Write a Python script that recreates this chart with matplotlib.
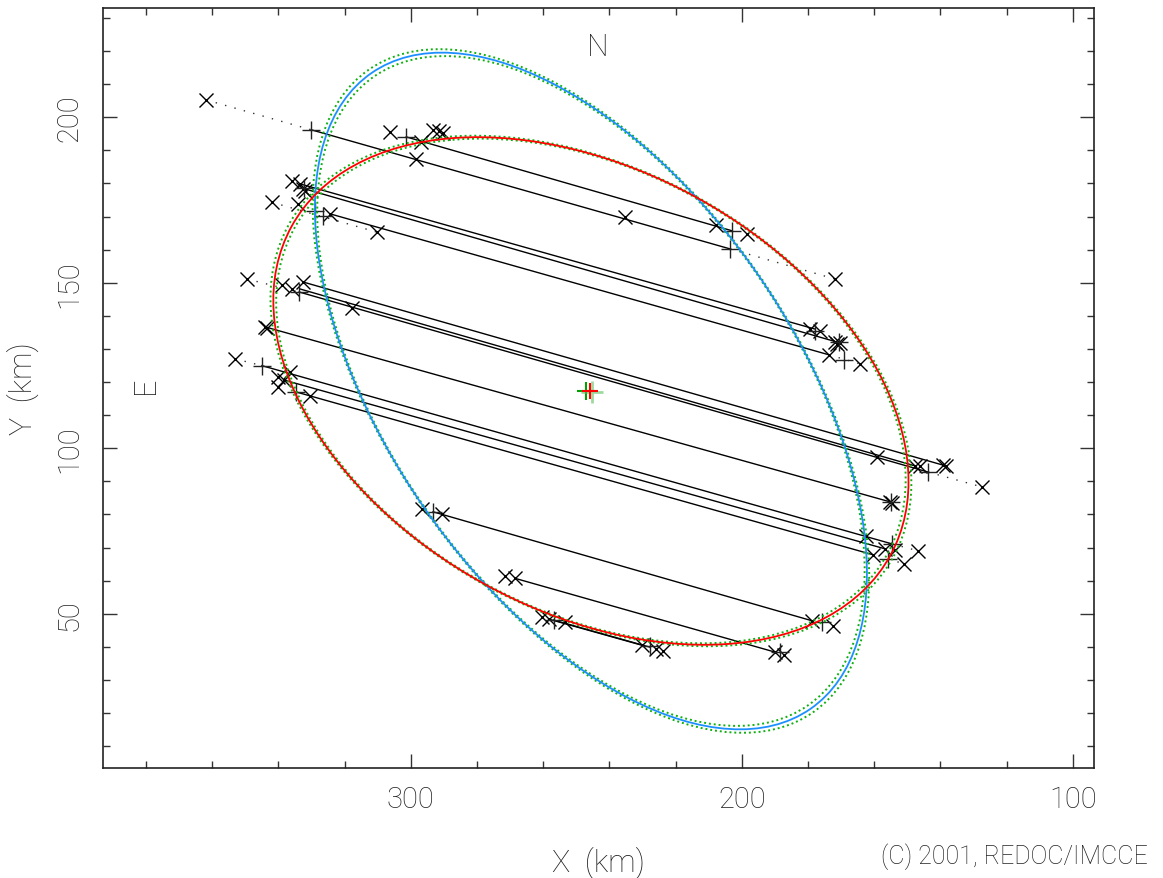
import matplotlib
matplotlib.use("Agg")
import matplotlib.pyplot as plt
from matplotlib.patches import Ellipse
from matplotlib.ticker import MultipleLocator

plt.rcParams['font.family'] = ['Roboto', 'DejaVu Sans']
plt.rcParams['font.weight'] = 'light'
plt.rcParams['axes.labelweight'] = 'light'

# fitted profiles: centre (km), semi-axes (km), position angle (deg)
centre = (245.6, 117.3)
blue_a, blue_b, blue_ang = 116.7, 61.5, 55.4
red_a, red_b, red_ang = 103.2, 66.6, 28.8
blue_da, blue_db = 1.3, 0.2
red_da, red_db = 1.0, 0.2

# centre of the fits
fit_x = [247.0, 246.0, 245.2]
fit_y = [117.4, 117.3, 116.9]

# observed chords (start x, start y, end x, end y)
chord_x1 = [330.1, 301.4, 333.45, 331.9, 324.4, 332.5, 333.45, 333.75,
            344.0, 345.0, 338.3, 334.65, 293.3, 268.5, 258.4, 256.9]
chord_y1 = [196.2, 194.05, 179.85, 178.3, 170.8, 150.2, 148.1, 147.2,
            136.65, 124.95, 120.6, 117.0, 80.8, 60.7, 48.4, 48.1]
chord_x2 = [203.5, 203.0, 177.9, 170.3, 173.6, 139.2, 147.6, 143.7,
            155.2, 154.6, 156.7, 160.3, 178.85, 189.9, 229.5, 227.7]
chord_y2 = [160.2, 165.7, 136.0, 131.8, 128.2, 94.9, 94.65, 92.8,
            83.8, 71.1, 69.6, 67.8, 47.9, 38.4, 40.3, 39.9]

# dotted prolongations
dot_x1 = [361.8, 203.5, 342.0, 173.6, 349.5, 143.7, 353.1, 154.6, 155.8]
dot_y1 = [205.2, 160.2, 174.3, 128.2, 151.1, 92.8, 127.0, 71.1, 66.6]
dot_x2 = [330.1, 171.8, 310.3, 164.3, 333.75, 127.4, 345.0, 146.7, 151.0]
dot_y2 = [196.2, 151.1, 165.3, 125.5, 147.2, 88.3, 124.95, 69.0, 65.05]

# timings (x crosses)
cross_x = [361.8, 171.8, 298.4, 235.3,
           306.3, 296.9, 293.3, 290.2, 291.5, 207.8, 198.4,
           335.95, 333.45, 332.5, 331.9, 179.4, 176.35,
           171.8, 170.3, 171.2,
           324.4, 334.05, 342.0, 310.3, 173.6, 164.3,
           332.5, 338.9, 335.9, 349.5, 317.8, 159.2, 146.1, 147.6, 139.2, 138.4, 127.4,
           344.0, 343.4, 155.2, 154.6,
           353.1, 340.1, 336.5, 338.3, 340.1, 330.4,
           162.5, 156.7, 153.7, 146.7, 160.3, 151.0,
           296.6, 290.55, 178.85, 172.5,
           271.5, 268.5, 189.9, 187.4,
           260.4, 258.4, 253.4, 230.2, 223.7, 226.0]
cross_y = [205.2, 151.1, 187.4, 169.9,
           195.6, 192.5, 196.2, 195.3, 195.8, 167.5, 164.7,
           180.85, 179.85, 178.3, 177.7, 136.0, 135.5,
           132.1, 131.8, 131.5,
           170.8, 173.8, 174.3, 165.3, 128.2, 125.5,
           150.2, 149.3, 148.1, 151.1, 142.3, 97.3, 94.65, 94.65, 94.9, 94.6, 88.3,
           136.65, 136.4, 83.8, 83.5,
           127.0, 121.5, 123.05, 120.6, 118.5, 115.9,
           73.5, 69.6, 69.3, 69.0, 67.8, 65.05,
           81.7, 80.15, 47.9, 46.2,
           61.5, 60.7, 38.4, 37.6,
           49.1, 48.4, 47.4, 40.6, 38.8, 39.5]

# chord ends (plus signs)
plus_x = [330.1, 203.5, 203.0, 301.4, 177.9, 170.8, 328.9, 326.5, 169.1,
          333.75, 143.7, 155.0, 345.0, 154.6, 334.65, 155.8, 293.3, 175.8,
          188.4, 256.9, 227.7, 332.2]
plus_y = [196.2, 160.2, 165.7, 194.05, 135.5, 132.0, 171.7, 170.2, 126.7,
          147.2, 92.8, 83.9, 124.95, 71.1, 117.0, 66.6, 80.8, 47.4,
          38.5, 48.1, 40.4, 178.5]

fig = plt.figure(figsize=(11.63, 8.79), dpi=100)
ax = fig.add_axes([0.0886, 0.1251, 0.8521, 0.8647])

for x1, y1, x2, y2 in zip(chord_x1, chord_y1, chord_x2, chord_y2):
    ax.plot([x1, x2], [y1, y2], color='black', lw=1.0, zorder=3)
for x1, y1, x2, y2 in zip(dot_x1, dot_y1, dot_x2, dot_y2):
    ax.plot([x1, x2], [y1, y2], color='#333333', lw=1.0, ls=(0, (1, 6)), zorder=3)

ax.plot(cross_x, cross_y, 'x', color='black', ms=10, mew=1.0, zorder=4)
ax.plot(plus_x, plus_y, '+', color='#222222', ms=13, mew=1.0, zorder=4)

# uncertainty envelopes
for da, db in [(blue_da, blue_db), (-blue_da, -blue_db)]:
    ax.add_patch(Ellipse(centre, 2 * (blue_a + da), 2 * (blue_b + db), angle=blue_ang,
                         fill=False, ec='#10b010', lw=1.4, ls=(0, (1, 1.5)), zorder=5))
for da, db in [(red_da, red_db), (-red_da, -red_db)]:
    ax.add_patch(Ellipse(centre, 2 * (red_a + da), 2 * (red_b + db), angle=red_ang,
                         fill=False, ec='#10b010', lw=1.4, ls=(0, (1, 1.5)), zorder=5))

ax.add_patch(Ellipse(centre, 2 * blue_a, 2 * blue_b, angle=blue_ang,
                     fill=False, ec='#1e8fff', lw=1.3, zorder=6))
ax.add_patch(Ellipse(centre, 2 * red_a, 2 * red_b, angle=red_ang,
                     fill=False, ec='#ff0000', lw=1.3, zorder=6))

ax.plot(fit_x[0], fit_y[0], '+', color='#00a000', ms=13, mew=1.5, zorder=7)
ax.plot(fit_x[1], fit_y[1], '+', color='#ff0000', ms=12, mew=1.5, zorder=8)
ax.plot(fit_x[2], fit_y[2], '+', color='#60c060', ms=16, mew=2.0, alpha=0.6, zorder=7)

ax.text(243.4, 221.5, 'N', fontsize=22, color='#222222', ha='center', va='center')
ax.text(380.3, 119.4, 'E', fontsize=22, color='#222222', ha='center', va='center',
        rotation=90)

ax.set_xlim(393.0, 93.6)
ax.set_ylim(3.4, 233.0)

ax.xaxis.set_major_locator(MultipleLocator(100))
ax.xaxis.set_minor_locator(MultipleLocator(20))
ax.yaxis.set_major_locator(MultipleLocator(50))
ax.yaxis.set_minor_locator(MultipleLocator(10))
ax.tick_params(which='both', direction='in', top=True, right=True,
               color='#333333', width=1.0)
ax.tick_params(which='major', length=10)
ax.tick_params(which='minor', length=5)
ax.tick_params(axis='x', labelsize=21, pad=12, labelcolor='#222222')
ax.tick_params(axis='y', labelsize=21, pad=14, labelcolor='#222222')
for lbl in ax.get_yticklabels():
    lbl.set_rotation(90)
    lbl.set_va('center')

for sp in ax.spines.values():
    sp.set_linewidth(1.2)
    sp.set_color('#222222')

ax.set_xlabel('X  (km)', fontsize=22, color='#222222', labelpad=24, fontweight='light')
ax.set_ylabel('Y  (km)', fontsize=22, color='#222222', labelpad=12, fontweight='light')

fig.text(1148 / 1163, 1 - 857 / 879, '(C) 2001, REDOC/IMCCE', fontsize=18,
         color='#222222', ha='right', va='center', fontweight='light')

fig.savefig('out.png', dpi=100)
